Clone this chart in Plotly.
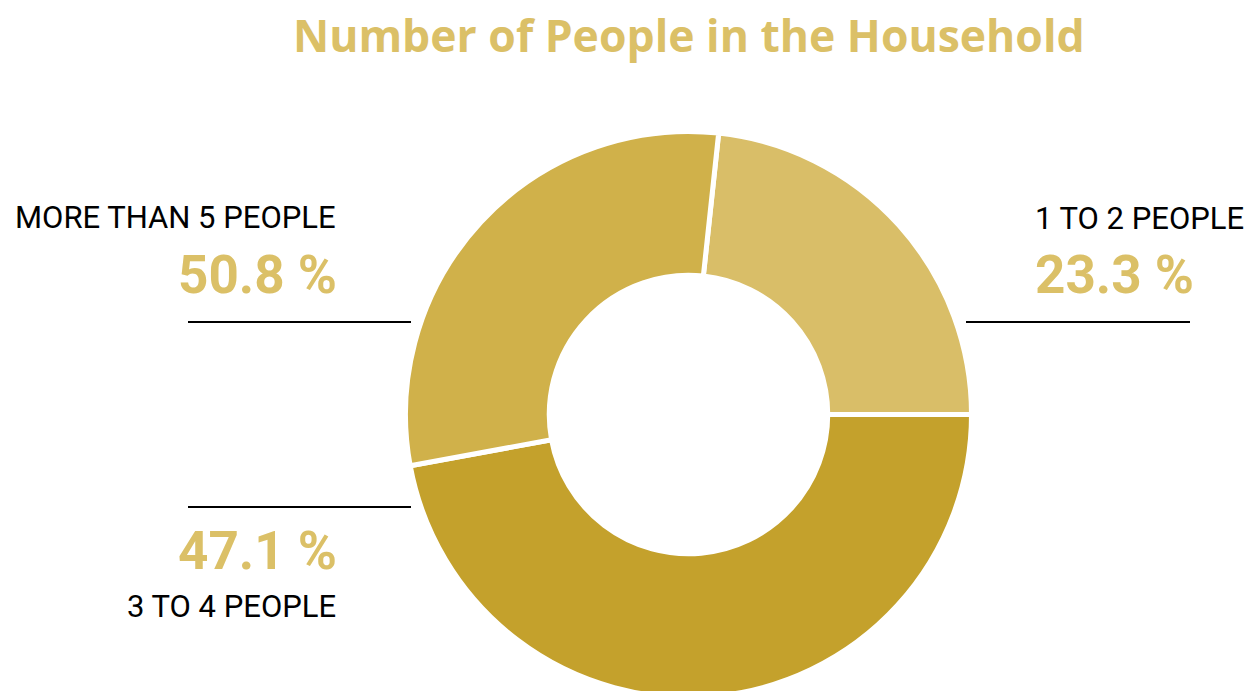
import plotly.graph_objects as go

# ---- data ----
categories = ["1 TO 2 PEOPLE", "3 TO 4 PEOPLE", "MORE THAN 5 PEOPLE"]
slice_values = [23.3, 47.1, 29.6]          # share of the ring each slice covers
label_texts = ["23.3 %", "47.1 %", "50.8 %"]  # percentages printed beside the ring
slice_colors = ["#D9BE68", "#C4A12C", "#D0B14A"]
title_text = "Number of People in the Household"

# ---- layout constants ----
W, H = 1250, 700
GOLD = "#DBC067"
LABEL_FONT = "Roboto, sans-serif"
TITLE_FONT = "Open Sans, Noto Sans, sans-serif"


def px(x, y):
    return x / W, (H - y) / H


cx, cy, r = 688.5, 414.5, 283
fig = go.Figure(
    go.Pie(
        labels=categories,
        values=slice_values,
        sort=False,
        direction="clockwise",
        rotation=90 - slice_values[0] * 3.6,
        hole=0.492,
        textinfo="none",
        hoverinfo="label+percent",
        marker=dict(colors=slice_colors, line=dict(color="white", width=5)),
        domain=dict(
            x=[(cx - 360) / W, (cx + 360) / W],
            y=[(H - cy - r) / H, (H - cy + r) / H],
        ),
        showlegend=False,
    )
)

annotations = []


def add_text(text, x, y, anchor, size, color, weight):
    xp, yp = px(x, y)
    annotations.append(
        dict(
            text=text, x=xp, y=yp, xref="paper", yref="paper",
            xanchor=anchor, yanchor="middle", showarrow=False,
            font=dict(family=LABEL_FONT, size=size, color=color, weight=weight),
        )
    )


add_text(categories[2], 338, 218, "right", 31, "black", "normal")
add_text(label_texts[2], 339, 274.5, "right", 53, GOLD, "bold")
add_text(categories[0], 1033, 219, "left", 31, "black", "normal")
add_text(label_texts[0], 1033, 274.5, "left", 53, GOLD, "bold")
add_text(label_texts[1], 339, 551, "right", 53, GOLD, "bold")
add_text(categories[1], 338, 606.5, "right", 31, "black", "normal")

tx, ty = px(689, 34.5)
annotations.append(
    dict(
        text=title_text, x=tx, y=ty, xref="paper", yref="paper",
        xanchor="center", yanchor="middle", showarrow=False,
        font=dict(family=TITLE_FONT, size=44.5, color=GOLD, weight="bold"),
    )
)

shapes = []
for x0, x1, y in [(188, 411, 322), (966, 1190, 322), (188, 411, 507)]:
    a0, b0 = px(x0, y)
    a1, b1 = px(x1, y)
    shapes.append(
        dict(type="line", xref="paper", yref="paper", x0=a0, x1=a1, y0=b0, y1=b1,
             line=dict(color="black", width=2))
    )

fig.update_layout(
    width=W, height=H,
    margin=dict(l=0, r=0, t=0, b=0),
    paper_bgcolor="white", plot_bgcolor="white",
    annotations=annotations, shapes=shapes,
)

fig.write_html(
    "out.html",
    config={"displayModeBar": False},
    post_script="document.body.style.margin='0';document.body.style.overflow='hidden';",
)
